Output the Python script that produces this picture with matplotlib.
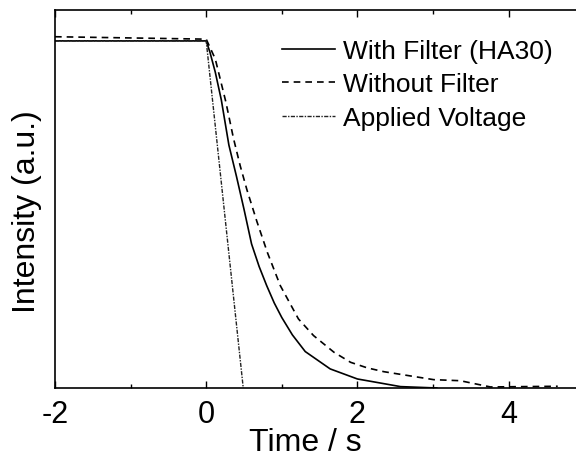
import matplotlib
matplotlib.use("Agg")
import matplotlib.pyplot as plt
from matplotlib.ticker import MultipleLocator

plt.rcParams['font.family'] = ['Liberation Sans', 'DejaVu Sans']

# With Filter (HA30)
t_with = [-2.0, 0.0, 0.05, 0.12, 0.2, 0.3, 0.4, 0.5, 0.6, 0.7, 0.8, 0.9, 1.0, 1.14,
          1.31, 1.64, 2.0, 2.26, 2.57, 3.05]
i_with = [1.0, 1.0, 0.967, 0.91, 0.83, 0.70, 0.61, 0.515, 0.415, 0.35, 0.295, 0.245, 0.203,
          0.153, 0.105, 0.055, 0.026, 0.016, 0.004, 0.0]

# Without Filter
t_without = [-2.0, 0.0, 0.12, 0.26, 0.36, 0.45, 0.54, 0.67, 0.81, 0.98, 1.22,
             1.42, 1.69, 1.91, 2.13, 2.35, 3.01, 3.36, 3.76, 4.2, 4.65]
i_without = [1.012, 1.005, 0.948, 0.824, 0.72, 0.64, 0.57, 0.48, 0.39, 0.295,
             0.199, 0.151, 0.103, 0.074, 0.058, 0.047, 0.024, 0.021, 0.003, 0.004, 0.005]

# Applied Voltage
t_volt = [-2.0, 0.0, 0.49]
v_volt = [1.0, 1.0, 0.0]

labels = ["With Filter (HA30)", "Without Filter", "Applied Voltage"]

fig = plt.figure(figsize=(5.76, 4.6), dpi=100)
W, H = 576, 460
left, right, top, bottom = 55, 55 + 7 * 75.6, 11, 389
ax = fig.add_axes([left / W, (H - bottom) / H, (right - left) / W, (bottom - top) / H])

ax.plot(t_with, i_with, color='black', lw=1.2, label=labels[0])
ax.plot(t_without, i_without, color='black', lw=1.2, ls=(0, (4, 3)), label=labels[1])
ax.plot(t_volt, v_volt, color='#222222', lw=1.0, ls=(0, (3, 1, 1, 1)), label=labels[2])

ax.set_xlim(-2, 5)
ax.set_ylim(0, 1.089)
ax.xaxis.set_major_locator(MultipleLocator(2))
ax.xaxis.set_minor_locator(MultipleLocator(1))
ax.set_yticks([])
ax.tick_params(axis='x', which='both', direction='in', top=True, labelsize=22, pad=8, width=1)
ax.tick_params(axis='x', which='major', length=5)
ax.tick_params(axis='x', which='minor', length=3)
ax.xaxis.set_major_formatter(plt.FuncFormatter(lambda v, p: f"{v:g}"))
for s in ax.spines.values():
    s.set_linewidth(1.2)

ax.set_xlabel("Time / s", fontsize=23)
ax.xaxis.label.set_va('center')
ax.xaxis.set_label_coords((305 - left) / (right - left), (bottom - 443) / (bottom - top))
ax.set_ylabel("Intensity (a.u.)", fontsize=23)
ax.yaxis.label.set_va('center')
ax.yaxis.set_label_coords((27 - left) / (right - left), (bottom - 212) / (bottom - top))

fig.legend(loc='upper left', bbox_to_anchor=(282 / W, (H - 40) / H), frameon=False,
           fontsize=19, handlelength=2.0, handletextpad=0.3, labelspacing=0.36,
           borderpad=0, borderaxespad=0)

fig.savefig("out.png", dpi=100)
